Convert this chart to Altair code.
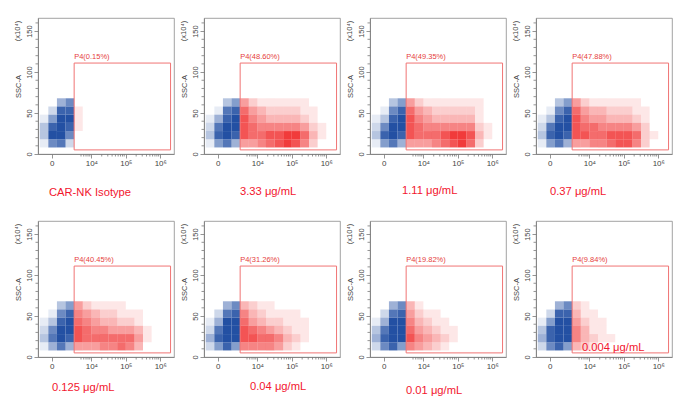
import math
import altair as alt
import pandas as pd

captions = ["CAR-NK Isotype", "3.33 μg/mL", "1.11 μg/mL", "0.37 μg/mL",
            "0.125 μg/mL", "0.04 μg/mL", "0.01 μg/mL", "0.004 μg/mL"]
gate_pct = ["0.15", "48.60", "49.35", "47.88", "40.45", "31.26", "19.82", "9.84"]

# x in display units: 0 -> 0, 10^4 -> 1.15, 10^5 -> 2.15, 10^6 -> 3.15
x_edges = [-0.35, -0.1, 0.15, 0.4, 0.65, 0.9, 1.15, 1.4, 1.65, 1.9, 2.15, 2.4, 2.65, 2.9, 3.15]
y_edges = [68, 58, 48, 38, 28, 18, 8]   # top -> bottom, one per grid row edge
gate_x = [0.65, 3.45]
gate_y = [5, 111]

# dot density per cell, 0 = empty .. 9 = solid; rows top -> bottom,
# first 4 columns are left of the P4 gate
grid_iso = [
    [0, 0, 4, 6, 0, 0, 0, 0, 0, 0, 0, 0, 0, 0],
    [0, 2, 8, 8, 1, 0, 0, 0, 0, 0, 0, 0, 0, 0],
    [1, 5, 9, 9, 1, 0, 0, 0, 0, 0, 0, 0, 0, 0],
    [3, 8, 9, 8, 1, 0, 0, 0, 0, 0, 0, 0, 0, 0],
    [3, 9, 9, 6, 0, 0, 0, 0, 0, 0, 0, 0, 0, 0],
    [1, 6, 7, 2, 0, 0, 0, 0, 0, 0, 0, 0, 0, 0],
]
grid_333 = [
    [0, 0, 3, 5, 4, 2, 1, 1, 1, 1, 1, 1, 0, 0],
    [0, 1, 7, 8, 6, 4, 3, 2, 2, 2, 2, 1, 1, 0],
    [1, 4, 8, 9, 7, 5, 4, 3, 3, 3, 3, 2, 1, 0],
    [2, 7, 9, 9, 7, 6, 5, 5, 5, 5, 5, 4, 2, 1],
    [3, 8, 9, 8, 7, 6, 6, 7, 7, 8, 8, 6, 3, 1],
    [1, 5, 7, 4, 4, 4, 5, 6, 7, 8, 7, 5, 2, 0],
]
grid_111 = [
    [0, 0, 3, 5, 4, 2, 1, 1, 1, 1, 1, 1, 1, 0],
    [0, 1, 6, 8, 6, 4, 3, 2, 2, 2, 2, 2, 1, 0],
    [1, 3, 8, 9, 7, 5, 4, 3, 3, 3, 3, 3, 1, 0],
    [2, 6, 9, 9, 7, 6, 5, 5, 5, 5, 5, 5, 2, 1],
    [3, 8, 9, 8, 7, 6, 6, 6, 7, 8, 8, 7, 3, 1],
    [1, 5, 7, 4, 4, 4, 4, 5, 6, 7, 8, 6, 2, 0],
]
grid_037 = [
    [0, 0, 3, 5, 4, 2, 1, 1, 1, 1, 1, 1, 0, 0],
    [0, 1, 6, 8, 6, 4, 3, 3, 2, 2, 2, 1, 1, 0],
    [1, 3, 8, 9, 7, 5, 4, 4, 3, 3, 3, 2, 1, 0],
    [2, 7, 9, 9, 7, 6, 6, 5, 5, 5, 5, 4, 2, 0],
    [3, 8, 9, 8, 7, 7, 6, 6, 7, 7, 7, 6, 2, 1],
    [1, 5, 7, 4, 4, 4, 5, 5, 6, 7, 7, 5, 2, 0],
]
grid_0125 = [
    [0, 0, 3, 5, 4, 2, 1, 1, 1, 1, 0, 0, 0, 0],
    [0, 1, 6, 8, 5, 4, 3, 2, 2, 1, 1, 1, 0, 0],
    [1, 3, 8, 9, 6, 5, 4, 3, 3, 2, 2, 1, 0, 0],
    [2, 6, 9, 9, 7, 6, 5, 5, 4, 4, 4, 3, 1, 0],
    [3, 7, 9, 8, 7, 6, 6, 6, 6, 6, 6, 4, 1, 0],
    [1, 4, 7, 4, 4, 4, 4, 5, 5, 6, 5, 3, 0, 0],
]
grid_004 = [
    [0, 0, 4, 6, 3, 2, 1, 1, 0, 0, 0, 0, 0, 0],
    [0, 2, 7, 8, 5, 3, 2, 1, 1, 1, 1, 0, 0, 0],
    [1, 4, 9, 9, 6, 4, 3, 2, 2, 1, 1, 1, 0, 0],
    [2, 7, 9, 9, 7, 6, 5, 4, 3, 2, 1, 1, 0, 0],
    [4, 8, 9, 9, 7, 7, 6, 6, 5, 3, 2, 1, 0, 0],
    [2, 5, 8, 5, 5, 5, 5, 5, 4, 2, 1, 0, 0, 0],
]
grid_001 = [
    [0, 0, 4, 6, 3, 1, 0, 0, 0, 0, 0, 0, 0, 0],
    [0, 2, 7, 8, 4, 2, 1, 1, 0, 0, 0, 0, 0, 0],
    [1, 4, 9, 9, 5, 3, 2, 1, 1, 0, 0, 0, 0, 0],
    [3, 7, 9, 9, 6, 4, 3, 2, 1, 1, 0, 0, 0, 0],
    [4, 8, 9, 9, 7, 5, 4, 3, 2, 1, 0, 0, 0, 0],
    [2, 6, 8, 5, 5, 4, 3, 2, 1, 0, 0, 0, 0, 0],
]
grid_0004 = [
    [0, 0, 4, 6, 2, 1, 0, 0, 0, 0, 0, 0, 0, 0],
    [0, 2, 8, 8, 3, 1, 1, 0, 0, 0, 0, 0, 0, 0],
    [1, 5, 9, 9, 4, 2, 1, 1, 0, 0, 0, 0, 0, 0],
    [3, 8, 9, 9, 5, 3, 1, 1, 0, 0, 0, 0, 0, 0],
    [4, 8, 9, 9, 5, 3, 2, 1, 1, 0, 0, 0, 0, 0],
    [2, 6, 8, 5, 3, 2, 1, 0, 0, 0, 0, 0, 0, 0],
]
grids = [grid_iso, grid_333, grid_111, grid_037, grid_0125, grid_004, grid_001, grid_0004]

# caption placement (px from the panel's top-left corner)
cap_pos = [(11, 175), (36, 174), (32, 173), (14, 174),
           (14, 167), (46, 166), (36, 170), (46, 127)]

BLUE = "#2350a3"
RED = "#ef2323"
GATE = "#f07474"
CAP = "#f2162e"
AXC = "#7a7a7a"
FONT = "Liberation Sans"
W = H = 136

x_major = [0, 1.15, 2.15, 3.15]
x_minor = ([round(0.15 + math.log10(k), 3) for k in range(5, 10)]
           + [round(1.15 + math.log10(k), 3) for k in range(2, 10)]
           + [round(2.15 + math.log10(k), 3) for k in range(2, 10)])
y_major = [0, 50, 100, 150]
y_minor = [v for v in range(10, 170, 10) if v % 50]

x_axis = alt.Axis(
    values=x_major, title=None, grid=False, labelFlush=False, labelOverlap=False,
    labelExpr="datum.value == 0 ? '0' : datum.value == 1.15 ? '10⁴' : "
              "datum.value == 2.15 ? '10⁵' : '10⁶'",
    tickSize=4, labelPadding=1, labelFontSize=8,
)
y_axis = alt.Axis(
    values=y_major, title="SSC-A", grid=False, labelFlush=False, labelOverlap=False,
    labelAngle=270, labelAlign="center", labelBaseline="bottom",
    tickSize=4, labelPadding=1, titlePadding=3,
)


def cells(grid):
    rows = []
    for r, line in enumerate(grid):
        for c, d in enumerate(line):
            if d == 0:
                continue
            rows.append({"x": x_edges[c], "x2": x_edges[c + 1],
                         "y": y_edges[r + 1], "y2": y_edges[r], "d": d,
                         "pop": "neg" if x_edges[c] < gate_x[0] else "pos"})
    return pd.DataFrame(rows)


def panel(i):
    xs = alt.Scale(domain=[-0.4, 3.55], nice=False, zero=False)
    ys = alt.Scale(domain=[0, 166], nice=False, zero=False)

    dots = alt.Chart(cells(grids[i])).mark_rect(strokeWidth=0).encode(
        x=alt.X("x:Q", scale=xs, axis=x_axis),
        x2="x2",
        y=alt.Y("y:Q", scale=ys, axis=y_axis),
        y2="y2",
        color=alt.Color("pop:N", scale=alt.Scale(domain=["neg", "pos"], range=[BLUE, RED]), legend=None),
        opacity=alt.Opacity("d:Q", scale=alt.Scale(domain=[0, 9], range=[0, 1]), legend=None),
    )

    # short minor ticks below / left of the frame
    xmin = alt.Chart(pd.DataFrame({"x": x_minor})).mark_rule(color=AXC, strokeWidth=0.8).encode(
        x=alt.X("x:Q", scale=xs, axis=x_axis), y=alt.value(H), y2=alt.value(H + 2.5)
    )
    ymin = alt.Chart(pd.DataFrame({"y": y_minor})).mark_rule(color=AXC, strokeWidth=0.8).encode(
        y=alt.Y("y:Q", scale=ys, axis=y_axis), x=alt.value(0), x2=alt.value(-2.5)
    )

    gate_df = pd.DataFrame({"x": [gate_x[0]], "x2": [gate_x[1]], "y": [gate_y[0]], "y2": [gate_y[1]]})
    gate = alt.Chart(gate_df).mark_rect(fillOpacity=0, stroke=GATE, strokeWidth=1).encode(
        x=alt.X("x:Q", scale=xs, axis=x_axis), x2="x2",
        y=alt.Y("y:Q", scale=ys, axis=y_axis), y2="y2"
    )

    lab_df = pd.DataFrame({"x": [gate_x[0]], "y": [gate_y[1]], "t": [f"P4({gate_pct[i]}%)"]})
    lab = alt.Chart(lab_df).mark_text(align="left", baseline="bottom", dy=-2, fontSize=7.5,
                                      font=FONT, color="#e64040").encode(
        x=alt.X("x:Q", scale=xs, axis=x_axis), y=alt.Y("y:Q", scale=ys, axis=y_axis), text="t:N"
    )

    unit = alt.Chart(pd.DataFrame({"t": ["(x10⁴)"]})).mark_text(
        angle=270, fontSize=7.5, font=FONT, color="#444444"
    ).encode(x=alt.value(-20), y=alt.value(13), text="t:N")

    dx, dy = cap_pos[i]
    cap = alt.Chart(pd.DataFrame({"t": [captions[i]]})).mark_text(
        align="left", baseline="middle", fontSize=11.2, font=FONT, color=CAP
    ).encode(x=alt.value(dx), y=alt.value(dy), text="t:N")

    return alt.layer(dots, xmin, ymin, gate, lab, unit, cap).properties(width=W, height=H)


chart = alt.concat(
    *[panel(i) for i in range(8)], columns=4,
    spacing={"row": 67, "column": 30}, bounds="flush"
).properties(
    padding={"left": 5, "top": 9, "right": 2, "bottom": 2}
).configure_view(
    stroke="#8a8a8a", strokeWidth=0.8
).configure_axis(
    domainColor=AXC, tickColor=AXC, domainWidth=0.8, tickWidth=0.8,
    labelColor="#444444", titleColor="#444444", labelFont=FONT, titleFont=FONT,
    labelFontSize=7.5, titleFontSize=7.5, titleFontWeight="normal"
)

chart.save("out.html", embed_options={"renderer": "svg", "actions": False})
